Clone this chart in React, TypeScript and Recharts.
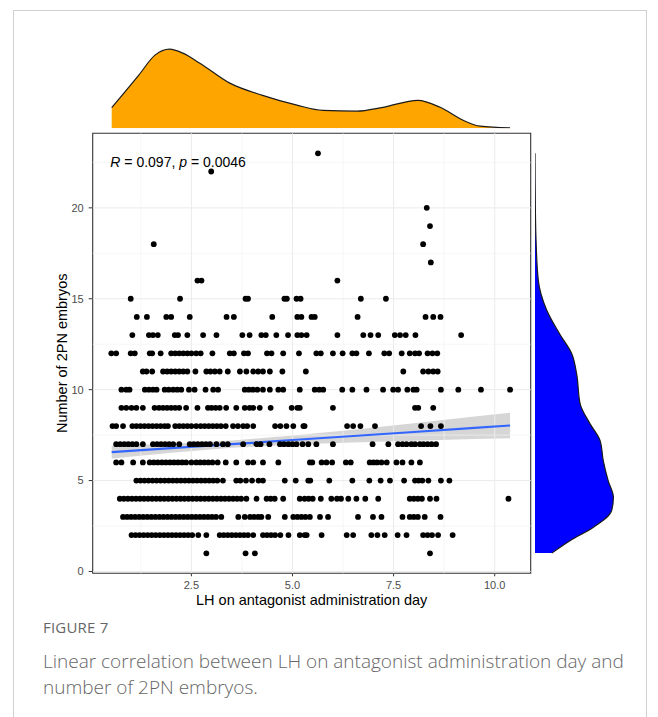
import React from 'react';
import {
  ComposedChart,
  AreaChart,
  Area,
  Line,
  Scatter,
  XAxis,
  YAxis,
  ReferenceLine,
  ReferenceArea,
  ReferenceDot,
} from 'recharts';

// ---------- data ----------
const embryoCounts = [1, 2, 3, 4, 5, 6, 7, 8, 9, 10, 11, 12, 13, 14, 15, 16, 17, 18, 19, 20, 22, 23];

const lhAt1 = [2.87, 3.84, 4.07, 8.4];
const lhAt2 = [1.02, 1.12, 1.22, 1.32, 1.42, 1.52, 1.62, 1.72, 1.82, 1.92, 2.02, 2.12, 2.22, 2.32, 2.42, 2.52, 2.67, 2.87, 3.2, 3.3, 3.4, 3.5, 3.6, 3.7, 3.8, 3.9, 4.03, 4.27, 4.37, 4.47, 4.57, 4.7, 4.9, 5.18, 5.3, 5.35, 5.72, 6.34, 6.5, 6.95, 7.1, 7.28, 7.6, 7.82, 8.23, 8.34, 8.45, 8.6, 8.96];
const lhAt3 = [0.81, 0.91, 1.01, 1.11, 1.21, 1.31, 1.41, 1.51, 1.61, 1.71, 1.81, 1.91, 2.01, 2.11, 2.21, 2.31, 2.41, 2.51, 2.61, 2.71, 2.81, 2.91, 3.01, 3.11, 3.24, 3.66, 3.82, 3.95, 4.05, 4.15, 4.23, 4.4, 4.81, 5.02, 5.12, 5.22, 5.32, 5.43, 5.68, 5.88, 6.62, 6.99, 7.2, 7.72, 7.9, 8.0, 8.1, 8.27, 8.66];
const lhAt4 = [0.73, 0.83, 0.93, 1.03, 1.13, 1.23, 1.33, 1.43, 1.53, 1.63, 1.73, 1.83, 1.93, 2.03, 2.13, 2.23, 2.33, 2.43, 2.53, 2.63, 2.73, 2.83, 2.93, 3.03, 3.13, 3.23, 3.33, 3.43, 3.53, 3.63, 3.73, 3.86, 4.11, 4.36, 4.46, 4.56, 4.77, 5.18, 5.3, 5.4, 5.5, 5.7, 5.96, 6.1, 6.2, 6.38, 6.58, 6.8, 7.12, 7.9, 8.0, 8.1, 8.2, 8.4, 8.56, 10.34];
const lhAt5 = [1.14, 1.24, 1.34, 1.44, 1.54, 1.64, 1.74, 1.84, 1.94, 2.04, 2.14, 2.24, 2.34, 2.44, 2.54, 2.64, 2.74, 2.84, 2.94, 3.04, 3.14, 3.28, 3.61, 3.71, 3.85, 4.0, 4.16, 4.27, 4.81, 5.08, 5.39, 5.44, 5.91, 6.48, 6.9, 7.18, 7.41, 7.76, 8.03, 8.12, 8.21, 8.36, 8.67, 8.88];
const lhAt6 = [0.64, 0.77, 1.06, 1.3, 1.47, 1.57, 1.67, 1.77, 1.87, 1.97, 2.07, 2.17, 2.27, 2.37, 2.5, 2.62, 2.72, 2.82, 2.92, 3.02, 3.15, 3.35, 3.61, 3.9, 4.03, 4.27, 4.65, 5.43, 5.49, 5.72, 5.84, 5.98, 6.32, 6.44, 6.91, 7.0, 7.09, 7.2, 7.33, 7.57, 7.72, 7.94, 8.15];
const lhAt7 = [0.64, 0.74, 0.84, 0.94, 1.04, 1.14, 1.3, 1.55, 1.65, 1.75, 1.85, 1.95, 2.05, 2.2, 2.46, 2.56, 2.66, 2.76, 2.86, 2.96, 3.12, 3.28, 3.4, 3.78, 4.11, 4.21, 4.43, 4.69, 4.79, 4.9, 5.0, 5.1, 5.25, 5.39, 5.59, 6.0, 6.98, 7.37, 7.61, 7.72, 7.82, 7.94, 8.03, 8.15, 8.24, 8.34, 8.44, 8.55];
const lhAt8 = [0.55, 0.64, 0.81, 1.04, 1.14, 1.24, 1.34, 1.44, 1.54, 1.64, 1.74, 1.84, 1.92, 2.1, 2.2, 2.3, 2.4, 2.5, 2.62, 2.73, 2.83, 2.93, 3.03, 3.13, 3.23, 3.35, 3.53, 3.65, 3.78, 3.88, 4.03, 4.57, 4.7, 4.85, 5.02, 5.27, 5.3, 6.35, 6.5, 6.68, 7.04, 8.18, 8.41, 8.67];
const lhAt9 = [0.77, 0.89, 1.02, 1.14, 1.3, 1.59, 1.7, 1.8, 1.9, 2.0, 2.1, 2.2, 2.37, 2.65, 2.91, 3.0, 3.1, 3.2, 3.36, 3.61, 3.82, 3.94, 4.03, 4.19, 4.46, 4.98, 5.12, 5.18, 6.0, 8.03, 8.11, 8.48];
const lhAt10 = [0.77, 0.89, 0.97, 1.35, 1.45, 1.55, 1.64, 1.84, 1.94, 2.05, 2.15, 2.25, 2.44, 2.58, 2.85, 3.04, 3.16, 3.82, 3.92, 4.02, 4.13, 4.27, 4.44, 4.65, 4.77, 5.18, 5.55, 5.66, 5.76, 6.23, 6.48, 6.83, 7.24, 7.49, 7.61, 7.84, 7.99, 8.07, 8.67, 9.1, 9.66, 10.38];
const lhAt11 = [1.3, 1.39, 1.53, 1.8, 1.9, 2.0, 2.1, 2.2, 2.3, 2.4, 2.6, 2.87, 2.97, 3.08, 3.2, 3.4, 3.7, 3.86, 4.03, 4.15, 4.27, 4.44, 4.75, 5.33, 7.74, 8.23, 8.36, 8.48, 8.59];
const lhAt12 = [0.52, 0.64, 1.0, 1.1, 1.47, 1.53, 1.74, 2.0, 2.1, 2.2, 2.3, 2.4, 2.5, 2.62, 2.73, 3.02, 3.45, 3.55, 3.8, 3.9, 4.37, 4.48, 4.77, 5.16, 5.59, 5.7, 6.0, 6.24, 6.48, 6.58, 6.89, 7.27, 7.39, 7.7, 7.9, 8.03, 8.13, 8.34, 8.46, 8.58];
const lhAt13 = [1.04, 1.45, 1.55, 1.67, 2.09, 2.17, 2.4, 2.79, 3.12, 3.76, 3.94, 4.23, 4.34, 4.6, 4.89, 5.12, 5.22, 5.35, 6.11, 6.75, 6.93, 7.12, 7.53, 7.66, 7.8, 8.04, 9.17];
const lhAt14 = [1.15, 1.4, 1.88, 2.0, 2.46, 3.37, 3.55, 4.5, 5.12, 5.22, 5.47, 5.55, 6.61, 8.29, 8.48, 8.66];
const lhAt15 = [1.0, 2.22, 3.84, 3.9, 4.8, 4.86, 5.1, 5.2, 6.69, 7.31];
const lhAt16 = [2.65, 2.75, 6.11];
const lhAt17 = [8.42];
const lhAt18 = [1.57, 8.23];
const lhAt19 = [8.4];
const lhAt20 = [8.32];
const lhAt22 = [2.99];
const lhAt23 = [5.63];

const lhByCount = [lhAt1, lhAt2, lhAt3, lhAt4, lhAt5, lhAt6, lhAt7, lhAt8, lhAt9, lhAt10, lhAt11, lhAt12, lhAt13, lhAt14, lhAt15, lhAt16, lhAt17, lhAt18, lhAt19, lhAt20, lhAt22, lhAt23];

// linear fit with 95% CI
const fitLH = [0.53, 2, 3.5, 5, 6.5, 8, 9.5, 10.38];
const fitValue = [6.56, 6.78, 7.0, 7.23, 7.45, 7.67, 7.9, 8.03];
const ciLow = [6.21, 6.53, 6.8, 6.98, 7.1, 7.19, 7.28, 7.33];
const ciHigh = [6.91, 7.03, 7.2, 7.48, 7.8, 8.15, 8.52, 8.73];

// marginal densities
const topLH = [0.53, 1.2, 1.6, 1.96, 2.3, 2.71, 3.45, 4.26, 5.11, 5.75, 6.59, 7.24, 8.1, 8.65, 9.22, 9.64, 10.38];
const topDensity = [0.059, 0.152, 0.209, 0.226, 0.214, 0.186, 0.129, 0.094, 0.066, 0.051, 0.049, 0.06, 0.08, 0.06, 0.023, 0.006, 0.001];

const rightCount = [1.01, 1.69, 2.43, 3.35, 4.08, 5.0, 6.1, 7.2, 8.13, 9.22, 10.87, 11.98, 13.05, 14.4, 16.0, 18.2, 20, 23];
const rightDensity = [0.048, 0.1, 0.167, 0.219, 0.224, 0.209, 0.195, 0.186, 0.157, 0.129, 0.119, 0.105, 0.071, 0.033, 0.0095, 0.003, 0.001, 0.0];

const xTicks = [2.5, 5, 7.5, 10];
const yTicks = [0, 5, 10, 15, 20];
const xMinor = [1.25, 3.75, 6.25, 8.75];
const yMinor = [2.5, 7.5, 12.5, 17.5, 22.5];

// ---------- derived tables ----------
const X_DOMAIN: [number, number] = [0.06, 10.89];
const Y_DOMAIN: [number, number] = [-0.1, 24.1];

const points = embryoCounts.flatMap((c, i) => lhByCount[i].map((x) => ({ x, y: c })));
const fitRows = fitLH.map((x, i) => ({ x, fit: fitValue[i], band: [ciLow[i], ciHigh[i]] }));
const topRows = topLH.map((x, i) => ({ x, d: topDensity[i] }));
const rightRows = rightCount.map((y, i) => ({ y, d: rightDensity[i] }));

const FONT = '"Liberation Sans", Arial, sans-serif';

const Dot = (p: any) => <circle cx={p.cx} cy={p.cy} r={2.9} fill="#000" />;

const StatLabel = (props: any) => {
  const vb = props.viewBox || {};
  return (
    <text x={vb.x} y={vb.y} fontFamily={FONT} fontSize={14} fill="#000" dominantBaseline="central">
      <tspan fontStyle="italic">R</tspan>
      <tspan> = 0.097, </tspan>
      <tspan fontStyle="italic">p</tspan>
      <tspan> = 0.0046</tspan>
    </text>
  );
};

export default function App() {
  return (
    <div style={{ position: 'absolute', left: 0, top: 0, width: 658, height: 717, overflow: 'hidden', background: '#fff' }}>
      <div style={{ position: 'absolute', left: 13, top: 10, width: 632, height: 760, border: '1px solid #d0d0d0' }} />

      {/* top marginal density */}
      <div style={{ position: 'absolute', left: 0, top: 0 }}>
        <AreaChart width={658} height={140} data={topRows} margin={{ top: 40.8, right: 127.3, bottom: 11.7, left: 92.7 }}>
          <XAxis type="number" dataKey="x" domain={X_DOMAIN} hide allowDataOverflow />
          <YAxis type="number" domain={[0, 0.25]} hide allowDataOverflow />
          <Area dataKey="d" type="monotone" fill="#FFA500" fillOpacity={1} stroke="#1a1a1a" strokeWidth={1.2} isAnimationActive={false} />
        </AreaChart>
      </div>

      {/* main scatter */}
      <div style={{ position: 'absolute', left: 0, top: 0 }}>
        <ComposedChart width={658} height={620} data={fitRows} margin={{ top: 133.3, right: 127.3, bottom: 6.7, left: 52.7 }}>
          <XAxis
            type="number"
            dataKey="x"
            domain={X_DOMAIN}
            allowDataOverflow
            ticks={xTicks}
            tickFormatter={(v: number) => v.toFixed(1)}
            height={40}
            axisLine={false}
            tickLine={{ stroke: '#333' }}
            tickSize={3}
            tickMargin={4.5}
            tick={{ fontSize: 11, fill: '#4d4d4d', fontFamily: FONT }}
            label={{ value: 'LH on antagonist administration day', position: 'center', dy: 7, fontSize: 14.5, fill: '#000', fontFamily: FONT }}
          />
          <YAxis
            type="number"
            dataKey="y"
            domain={Y_DOMAIN}
            allowDataOverflow
            ticks={yTicks}
            width={40}
            axisLine={false}
            tickLine={{ stroke: '#333' }}
            tickSize={4}
            tickMargin={5}
            tick={{ fontSize: 11, fill: '#4d4d4d', fontFamily: FONT }}
            label={{ value: 'Number of 2PN embryos', angle: -90, position: 'center', dx: -10.7, fontSize: 14.5, fill: '#000', fontFamily: FONT }}
          />
          {xMinor.map((v) => (
            <ReferenceLine key={'xm' + v} x={v} stroke="#f2f2f2" strokeWidth={0.7} />
          ))}
          {yMinor.map((v) => (
            <ReferenceLine key={'ym' + v} y={v} stroke="#f2f2f2" strokeWidth={0.7} />
          ))}
          {xTicks.map((v) => (
            <ReferenceLine key={'xg' + v} x={v} stroke="#ebebeb" strokeWidth={1} />
          ))}
          {yTicks.map((v) => (
            <ReferenceLine key={'yg' + v} y={v} stroke="#ebebeb" strokeWidth={1} />
          ))}
          <Scatter data={points} fill="#000" shape={Dot} isAnimationActive={false} />
          <Area dataKey="band" type="linear" fill="#999999" fillOpacity={0.4} stroke="none" isAnimationActive={false} />
          <Line dataKey="fit" type="linear" stroke="#3366FF" strokeWidth={2.2} dot={false} isAnimationActive={false} />
          <ReferenceArea x1={X_DOMAIN[0]} x2={X_DOMAIN[1]} y1={Y_DOMAIN[0]} y2={Y_DOMAIN[1]} fill="none" fillOpacity={0} stroke="#333" strokeWidth={1.1} />
          <ReferenceDot x={0.52} y={22.46} r={1} fill="none" stroke="none" label={<StatLabel />} />
        </ComposedChart>
      </div>

      {/* right marginal density */}
      <div style={{ position: 'absolute', left: 0, top: 0 }}>
        <AreaChart layout="vertical" width={658} height={620} data={rightRows} margin={{ top: 133.3, right: 35.5, bottom: 46.7, left: 535 }}>
          <XAxis type="number" domain={[0, 0.25]} hide allowDataOverflow />
          <YAxis type="number" dataKey="y" domain={Y_DOMAIN} hide allowDataOverflow reversed />
          <Area dataKey="d" type="monotone" fill="#0000FF" fillOpacity={1} stroke="#1a1a1a" strokeWidth={1.2} isAnimationActive={false} />
        </AreaChart>
      </div>

      {/* caption */}
      <div style={{ position: 'absolute', left: 43, top: 617, fontFamily: '"Open Sans", sans-serif', fontSize: 15, color: '#666', letterSpacing: 0.2 }}>
        FIGURE 7
      </div>
      <div style={{ position: 'absolute', left: 43, top: 648, width: 600, fontFamily: '"Open Sans", sans-serif', fontWeight: 300, fontSize: 19, lineHeight: '26px', color: '#666' }}>
        Linear correlation between LH on antagonist administration day and number of 2PN embryos.
      </div>
    </div>
  );
}
